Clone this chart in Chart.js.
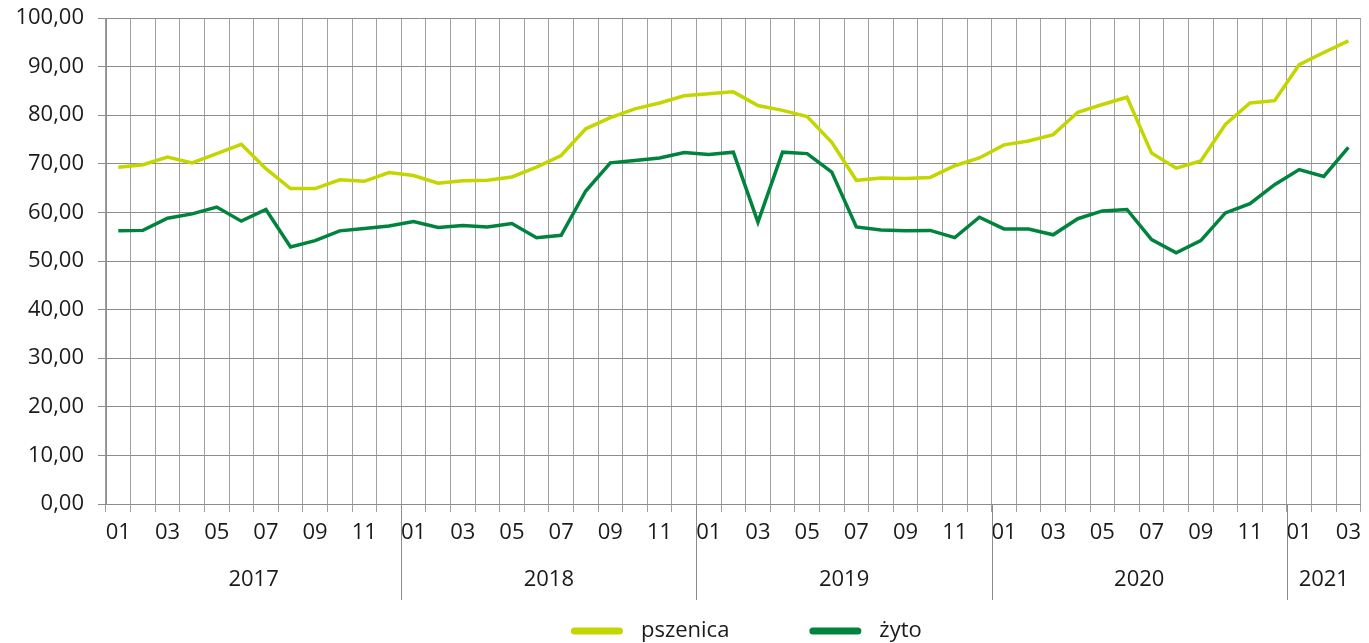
<!DOCTYPE html>
<html lang="pl">
<head>
<meta charset="UTF-8">
<title>Ceny pszenicy i żyta</title>
<script src="https://cdn.jsdelivr.net/npm/chart.js"></script>
<style>
  body { margin: 0; background: #fff; }
  #wrap { width: 1369px; height: 643px; }
</style>
</head>
<body>
<div id="wrap"><canvas id="priceChart"></canvas></div>
<script>
// miesiące (rrrr-mm)
const categories = [
  '2017-01','2017-02','2017-03','2017-04','2017-05','2017-06','2017-07','2017-08','2017-09','2017-10','2017-11','2017-12',
  '2018-01','2018-02','2018-03','2018-04','2018-05','2018-06','2018-07','2018-08','2018-09','2018-10','2018-11','2018-12',
  '2019-01','2019-02','2019-03','2019-04','2019-05','2019-06','2019-07','2019-08','2019-09','2019-10','2019-11','2019-12',
  '2020-01','2020-02','2020-03','2020-04','2020-05','2020-06','2020-07','2020-08','2020-09','2020-10','2020-11','2020-12',
  '2021-01','2021-02','2021-03'
];
const years = ['2017', '2018', '2019', '2020', '2021'];

const pszenica = [
  69.3, 69.8, 71.4, 70.2, 72.1, 74.0, 69.0, 64.9, 64.9, 66.7, 66.4, 68.2,
  67.6, 66.0, 66.5, 66.6, 67.3, 69.3, 71.7, 77.2, 79.5, 81.3, 82.5, 84.0,
  84.4, 84.8, 82.0, 81.0, 79.7, 74.4, 66.6, 67.1, 67.0, 67.2, 69.6, 71.2,
  73.9, 74.7, 76.0, 80.6, 82.2, 83.7, 72.2, 69.1, 70.6, 78.1, 82.5, 83.0,
  90.4, 92.9, 95.3
];
const zyto = [
  56.2, 56.3, 58.8, 59.7, 61.1, 58.2, 60.6, 52.9, 54.2, 56.2, 56.7, 57.2,
  58.1, 56.9, 57.3, 57.0, 57.7, 54.8, 55.3, 64.4, 70.2, 70.7, 71.2, 72.3,
  71.9, 72.4, 58.0, 72.4, 72.1, 68.3, 57.0, 56.4, 56.2, 56.3, 54.8, 59.0,
  56.6, 56.6, 55.4, 58.7, 60.3, 60.6, 54.4, 51.7, 54.2, 59.9, 61.8, 65.7,
  68.8, 67.4, 73.4
];

const FONT = '"Open Sans", "Noto Sans", sans-serif';
const FONT_SIZE = 22;
const TEXT = '#1a1a1a';

// podpisy lat pod osią + pionowe separatory
const yearBands = {
  id: 'yearBands',
  afterDraw(chart) {
    const x = chart.scales.x, area = chart.chartArea, ctx = chart.ctx;
    const half = (x.getPixelForValue(1) - x.getPixelForValue(0)) / 2;
    ctx.save();
    ctx.font = FONT_SIZE + 'px ' + FONT;
    ctx.fillStyle = TEXT;
    ctx.textAlign = 'center';
    ctx.textBaseline = 'middle';
    ctx.strokeStyle = '#8c8c8c';
    ctx.lineWidth = 1;
    years.forEach((yr, k) => {
      const idx = categories.map((c, i) => c.startsWith(yr) ? i : -1).filter(i => i >= 0);
      const left = x.getPixelForValue(idx[0]) - half;
      const right = x.getPixelForValue(idx[idx.length - 1]) + half;
      ctx.fillText(yr, (left + right) / 2, area.bottom + 76);
      if (k > 0) {
        const lx = Math.round(left) + 0.5;
        ctx.beginPath();
        ctx.moveTo(lx, area.bottom);
        ctx.lineTo(lx, area.bottom + 96);
        ctx.stroke();
      }
    });
    ctx.restore();
  }
};

// legenda na dole: kreska + nazwa serii
const bottomLegend = {
  id: 'bottomLegend',
  afterDraw(chart) {
    const ctx = chart.ctx, area = chart.chartArea;
    const sets = chart.data.datasets;
    const swatch = 52, gap = 18, spacing = 80;
    ctx.save();
    ctx.font = FONT_SIZE + 'px ' + FONT;
    ctx.textBaseline = 'middle';
    ctx.textAlign = 'left';
    const widths = sets.map(d => swatch + gap + ctx.measureText(d.label).width);
    const total = widths.reduce((a, b) => a + b, 0) + spacing * (sets.length - 1);
    let cx = (area.left + area.right) / 2 + 13 - total / 2;
    const cy = area.bottom + 127;
    sets.forEach((d, i) => {
      ctx.strokeStyle = d.borderColor;
      ctx.lineWidth = 7;
      ctx.lineCap = 'round';
      ctx.beginPath();
      ctx.moveTo(cx + 3.5, cy);
      ctx.lineTo(cx + swatch - 3.5, cy);
      ctx.stroke();
      ctx.fillStyle = TEXT;
      ctx.fillText(d.label, cx + swatch + gap, cy);
      cx += widths[i] + spacing;
    });
    ctx.restore();
  }
};

const ctx = document.getElementById('priceChart').getContext('2d');
new Chart(ctx, {
  type: 'line',
  data: {
    labels: categories,
    datasets: [
      { label: 'pszenica', data: pszenica, borderColor: '#c3d600', backgroundColor: '#c3d600',
        borderWidth: 3.5, pointRadius: 0, tension: 0 },
      { label: 'żyto', data: zyto, borderColor: '#00843d', backgroundColor: '#00843d',
        borderWidth: 3.5, pointRadius: 0, tension: 0 }
    ]
  },
  options: {
    responsive: true,
    maintainAspectRatio: false,
    animation: false,
    layout: { padding: { top: 18, right: 3, left: 0, bottom: 0 } },
    plugins: {
      tooltip: { enabled: false },
      legend: { display: false }
    },
    scales: {
      x: {
        offset: true,
        grid: { offset: true, color: '#a0a0a0', tickLength: 8, lineWidth: 1 },
        border: { color: '#8c8c8c' },
        ticks: {
          autoSkip: false,
          maxRotation: 0,
          padding: 8,
          color: TEXT,
          font: { family: FONT, size: FONT_SIZE },
          callback: (v, i) => i % 2 === 0 ? categories[i].slice(5) : ''
        },
        afterFit: scale => { scale.height = 139; }
      },
      y: {
        min: 0,
        max: 100,
        grid: { color: '#8c8c8c', tickLength: 8 },
        border: { color: '#8c8c8c' },
        ticks: {
          stepSize: 10,
          padding: 14,
          color: TEXT,
          font: { family: FONT, size: FONT_SIZE },
          callback: v => v.toFixed(2).replace('.', ',')
        },
        afterFit: scale => {
          scale.width = 106;
          scale.paddingTop = 0;
          scale.paddingBottom = 0;
        }
      }
    }
  },
  plugins: [yearBands, bottomLegend]
});
</script>
</body>
</html>
